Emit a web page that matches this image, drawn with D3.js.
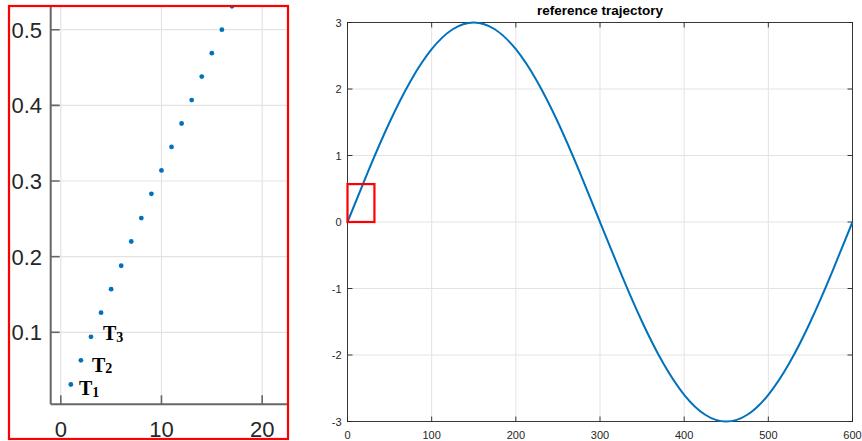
<!DOCTYPE html>
<html>
<head>
<meta charset="utf-8">
<script src="https://cdn.jsdelivr.net/npm/d3@7/dist/d3.min.js"></script>
<style>
  html, body { margin: 0; padding: 0; background: #fff; }
  svg { display: block; }
</style>
</head>
<body>
<script>
// ---------- data ----------
// zoomed view (left): sample index and value
const zoomIdx = [1,2,3,4,5,6,7,8,9,10,11,12,13,14,15,16,17];
const zoomVal = [0.031,0.063,0.094,0.126,0.157,0.188,0.220,0.251,0.283,0.314,0.345,0.376,0.407,0.438,0.469,0.500,0.531];
const zoomXTicks = [0,10,20];
const zoomYTicks = [0.1,0.2,0.3,0.4,0.5];
const labelNames = ["1","2","3"];
const labelX = [1.81, 3.10, 4.19];
const labelY = [0.0171, 0.0479, 0.0898];

// reference trajectory (right)
const trajT = [0,25,50,75,100,125,150,175,200,225,250,275,300,325,350,375,400,425,450,475,500,525,550,575,600];
const trajV = [0,0.776,1.5,2.121,2.598,2.898,3,2.898,2.598,2.121,1.5,0.776,0,-0.776,-1.5,-2.121,-2.598,-2.898,-3,-2.898,-2.598,-2.121,-1.5,-0.776,0];
const trajXTicks = [0,100,200,300,400,500,600];
const trajYTicks = [-3,-2,-1,0,1,2,3];
const zoomBoxX = [0, 32];
const zoomBoxY = [0, 0.57];
const title = "reference trajectory";

// ---------- drawing ----------
const W = 862, H = 441;
const blue = "#0072BD", txt = "#262626", grid = "#e3e3e3";
const sans = "'Liberation Sans', Arial, Helvetica, sans-serif";
const serif = "'Liberation Serif', 'Times New Roman', serif";

const svg = d3.select("body").append("svg").attr("width", W).attr("height", H);

// ===== Left panel =====
const xL = d3.scaleLinear().domain([-1, 25]).range([50.7, 50.7 + 26 * 10.07]);
const yL = d3.scaleLinear().domain([0.1, 0.5]).range([332.3, 29.7]);
const yBottom = 404.3;

svg.append("defs").append("clipPath").attr("id", "clipL")
  .append("rect").attr("x", 9).attr("y", 6.5).attr("width", 279).attr("height", 432.5);

const gL = svg.append("g").attr("clip-path", "url(#clipL)");

// grid
gL.selectAll("line.gx").data(zoomXTicks).join("line")
  .attr("x1", d => xL(d)).attr("x2", d => xL(d))
  .attr("y1", -20).attr("y2", yBottom)
  .attr("stroke", grid).attr("stroke-width", 1.2);
gL.selectAll("line.gy").data(zoomYTicks).join("line")
  .attr("x1", xL(-1)).attr("x2", 300)
  .attr("y1", d => yL(d)).attr("y2", d => yL(d))
  .attr("stroke", grid).attr("stroke-width", 1.2);

// axes lines
const axisGray = "#666666";
gL.append("line").attr("x1", xL(-1)).attr("x2", xL(-1)).attr("y1", -20).attr("y2", yBottom)
  .attr("stroke", axisGray).attr("stroke-width", 2);
gL.append("line").attr("x1", xL(-1)).attr("x2", 300).attr("y1", yBottom).attr("y2", yBottom)
  .attr("stroke", axisGray).attr("stroke-width", 2);
// ticks (inward)
gL.selectAll("line.tx").data(zoomXTicks).join("line")
  .attr("x1", d => xL(d)).attr("x2", d => xL(d))
  .attr("y1", yBottom).attr("y2", yBottom - 9)
  .attr("stroke", axisGray).attr("stroke-width", 1.6);
gL.selectAll("line.ty").data(zoomYTicks).join("line")
  .attr("x1", xL(-1)).attr("x2", xL(-1) + 9)
  .attr("y1", d => yL(d)).attr("y2", d => yL(d))
  .attr("stroke", axisGray).attr("stroke-width", 1.6);

// tick labels
gL.selectAll("text.tly").data(zoomYTicks).join("text")
  .attr("x", 42).attr("y", d => yL(d) + 8)
  .attr("text-anchor", "end")
  .attr("font-family", sans).attr("font-size", 22).attr("fill", txt)
  .text(d => d3.format(".1f")(d));
gL.selectAll("text.tlx").data(zoomXTicks).join("text")
  .attr("x", d => xL(d)).attr("y", 437)
  .attr("text-anchor", "middle")
  .attr("font-family", sans).attr("font-size", 22).attr("fill", txt)
  .text(d => d);

// points
gL.selectAll("circle").data(zoomIdx).join("circle")
  .attr("cx", (d) => xL(d)).attr("cy", (d, i) => yL(zoomVal[i]))
  .attr("r", 2.4).attr("fill", blue);

// T labels
labelNames.forEach((n, i) => {
  const t = gL.append("text")
    .attr("x", xL(labelX[i])).attr("y", yL(labelY[i]))
    .attr("font-family", serif).attr("font-weight", "bold").attr("font-size", 20).attr("fill", "#000");
  t.append("tspan").text("T");
  t.append("tspan").attr("font-size", 14).attr("dy", 1.5).text(n);
});

// red frame
svg.append("rect").attr("x", 9).attr("y", 6).attr("width", 279).attr("height", 433)
  .attr("fill", "none").attr("stroke", "#ff0000").attr("stroke-width", 2.2);

// ===== Right panel =====
const x = d3.scaleLinear().domain([0, 600]).range([347.5, 852.5]);
const y = d3.scaleLinear().domain([-3, 3]).range([421.5, 22.5]);
const gR = svg.append("g");

gR.selectAll("line.gx").data(trajXTicks).join("line")
  .attr("x1", d => x(d)).attr("x2", d => x(d))
  .attr("y1", y(-3)).attr("y2", y(3))
  .attr("stroke", grid).attr("stroke-width", 1);
gR.selectAll("line.gy").data(trajYTicks).join("line")
  .attr("x1", x(0)).attr("x2", x(600))
  .attr("y1", d => y(d)).attr("y2", d => y(d))
  .attr("stroke", grid).attr("stroke-width", 1);

// box
gR.append("rect").attr("x", x(0)).attr("y", y(3))
  .attr("width", x(600) - x(0)).attr("height", y(-3) - y(3))
  .attr("fill", "none").attr("stroke", txt).attr("stroke-width", 0.9);

// ticks on all sides (inward)
const tl = 5;
gR.selectAll("line.tb").data(trajXTicks).join("line")
  .attr("x1", d => x(d)).attr("x2", d => x(d)).attr("y1", y(-3)).attr("y2", y(-3) - tl)
  .attr("stroke", txt).attr("stroke-width", 0.9);
gR.selectAll("line.tt").data(trajXTicks).join("line")
  .attr("x1", d => x(d)).attr("x2", d => x(d)).attr("y1", y(3)).attr("y2", y(3) + tl)
  .attr("stroke", txt).attr("stroke-width", 0.9);
gR.selectAll("line.tlft").data(trajYTicks).join("line")
  .attr("x1", x(0)).attr("x2", x(0) + tl).attr("y1", d => y(d)).attr("y2", d => y(d))
  .attr("stroke", txt).attr("stroke-width", 0.9);
gR.selectAll("line.trt").data(trajYTicks).join("line")
  .attr("x1", x(600)).attr("x2", x(600) - tl).attr("y1", d => y(d)).attr("y2", d => y(d))
  .attr("stroke", txt).attr("stroke-width", 0.9);

// tick labels
gR.selectAll("text.lx").data(trajXTicks).join("text")
  .attr("x", d => x(d)).attr("y", 439)
  .attr("text-anchor", "middle").attr("font-family", sans).attr("font-size", 11).attr("fill", txt)
  .text(d => d);
gR.selectAll("text.ly").data(trajYTicks).join("text")
  .attr("x", x(0) - 6).attr("y", d => y(d) + 4)
  .attr("text-anchor", "end").attr("font-family", sans).attr("font-size", 11).attr("fill", txt)
  .text(d => d);

// title
gR.append("text").attr("x", (x(0) + x(600)) / 2).attr("y", 15)
  .attr("text-anchor", "middle").attr("font-family", sans).attr("font-weight", "bold")
  .attr("font-size", 13.5).attr("fill", "#000").text(title);

// trajectory line
const line = d3.line().x((d) => x(d)).y((d, i) => y(trajV[i])).curve(d3.curveNatural);
gR.append("path").datum(trajT).attr("d", line)
  .attr("fill", "none").attr("stroke", blue).attr("stroke-width", 2);

// red zoom box
gR.append("rect").attr("x", x(zoomBoxX[0])).attr("y", y(zoomBoxY[1]))
  .attr("width", x(zoomBoxX[1]) - x(zoomBoxX[0])).attr("height", y(zoomBoxY[0]) - y(zoomBoxY[1]))
  .attr("fill", "none").attr("stroke", "#ff0000").attr("stroke-width", 2.2);
</script>
</body>
</html>
